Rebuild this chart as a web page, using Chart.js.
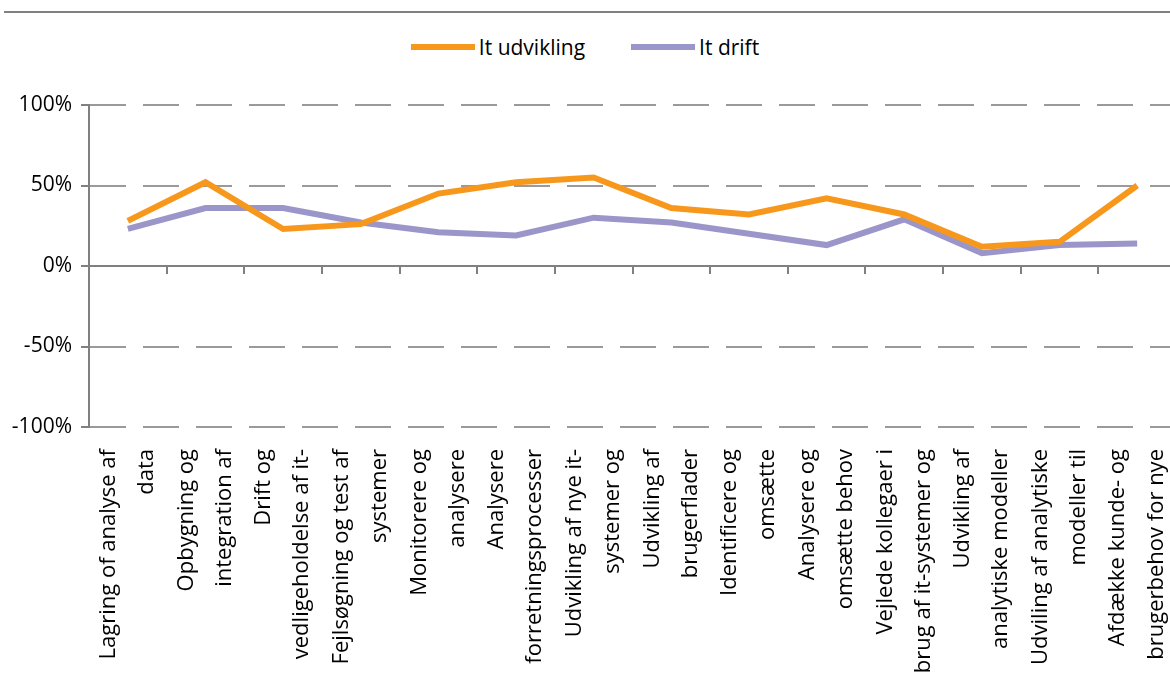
<!DOCTYPE html>
<html>
<head>
<meta charset="utf-8">
<script src="https://cdn.jsdelivr.net/npm/chart.js@4.4.1/dist/chart.umd.min.js"></script>
<style>
    html, body { margin: 0; padding: 0; background: #fff; overflow: hidden; }
    #wrap { position: relative; width: 1170px; height: 686px; overflow: hidden; }
    #topRule { position: absolute; left: 4px; right: 0; top: 11px; height: 2px; background: #808080; }
    #legend {
        position: absolute; top: 33px; left: 0; width: 1170px;
        display: flex; justify-content: center; align-items: center;
        font-family: "Open Sans", sans-serif; font-size: 21px; color: #000;
    }
    .item { display: flex; align-items: center; margin: 0 23px; }
    .swatch { display: inline-block; width: 64px; height: 6px; margin-right: 4px; }
    canvas { position: absolute; left: 0; top: 0; }
</style>
</head>
<body>
<div id="wrap">
    <div id="topRule"></div>
    <div id="legend"></div>
    <canvas id="lineChart" width="1176" height="686"></canvas>
</div>
<script>
// --- Datos ---
const categories = [
    ["Lagring of analyse af", "data"],
    ["Opbygning og", "integration af"],
    ["Drift og", "vedligeholdelse af it-"],
    ["Fejlsøgning og test af", "systemer"],
    ["Monitorere og", "analysere"],
    ["Analysere", "forretningsprocesser"],
    ["Udvikling af nye it-", "systemer og"],
    ["Udvikling af", "brugerflader"],
    ["Identificere og", "omsætte"],
    ["Analysere og", "omsætte behov"],
    ["Vejlede kollegaer i", "brug af it-systemer og"],
    ["Udvikling af", "analytiske modeller"],
    ["Udviling af analytiske", "modeller til"],
    ["Afdække kunde- og", "brugerbehov for nye"]
];
const seriesNames = ["It udvikling", "It drift"];
const itUdvikling = [28, 52, 23, 26, 45, 52, 55, 36, 32, 42, 32, 12, 15, 50];
const itDrift = [23, 36, 36, 27, 21, 19, 30, 27, 20, 13, 29, 8, 13, 14];
const yTicks = [-100, -50, 0, 50, 100];

const COLORS = { orange: "#F7981D", purple: "#9B96CA", axis: "#808080", grid: "#9a9a9a" };

// --- Leyenda HTML ---
const legendEl = document.getElementById("legend");
[[seriesNames[0], COLORS.orange], [seriesNames[1], COLORS.purple]].forEach(([name, color]) => {
    const item = document.createElement("div");
    item.className = "item";
    item.innerHTML = `<span class="swatch" style="background:${color}"></span><span>${name}</span>`;
    legendEl.appendChild(item);
});

// --- Marcas del eje en 0% ---
const zeroTicks = {
    id: "zeroTicks",
    afterDatasetsDraw(chart) {
        const { ctx, scales: { x, y } } = chart;
        const y0 = y.getPixelForValue(0);
        ctx.save();
        ctx.strokeStyle = COLORS.axis;
        ctx.lineWidth = 2;
        for (let i = 0; i < categories.length - 1; i++) {
            const px = Math.round((x.getPixelForValue(i) + x.getPixelForValue(i + 1)) / 2);
            ctx.beginPath();
            ctx.moveTo(px, y0);
            ctx.lineTo(px, y0 + 8);
            ctx.stroke();
        }
        ctx.restore();
    }
};

new Chart(document.getElementById("lineChart").getContext("2d"), {
    type: "line",
    data: {
        labels: categories,
        datasets: [{
            label: seriesNames[0],
            data: itUdvikling,
            borderColor: COLORS.orange,
            backgroundColor: COLORS.orange,
            borderWidth: 6,
            pointRadius: 0,
            tension: 0
        }, {
            label: seriesNames[1],
            data: itDrift,
            borderColor: COLORS.purple,
            backgroundColor: COLORS.purple,
            borderWidth: 6,
            pointRadius: 0,
            tension: 0
        }]
    },
    options: {
        responsive: false,
        animation: false,
        layout: { padding: { top: 105, left: 0, right: 0, bottom: 0 } },
        plugins: {
            legend: { display: false },
            tooltip: { enabled: false }
        },
        scales: {
            x: {
                offset: true,
                grid: { display: false, drawTicks: false },
                border: { display: false },
                ticks: {
                    autoSkip: false,
                    maxRotation: 90,
                    minRotation: 90,
                    padding: 22,
                    labelOffset: -19,
                    color: "#000",
                    font: { family: "Open Sans", size: 22, lineHeight: 1.73 }
                },
                afterFit: (scale) => {
                    scale.height = 259;
                    scale.paddingLeft = 0;
                    scale.paddingRight = 0;
                }
            },
            y: {
                min: -100,
                max: 100,
                afterBuildTicks: (scale) => { scale.ticks = yTicks.map(v => ({ value: v })); },
                grid: {
                    color: (ctx) => ctx.tick && ctx.tick.value === 0 ? COLORS.axis : COLORS.grid,
                    lineWidth: 2,
                    tickLength: 8,
                    tickColor: COLORS.axis,
                    tickWidth: 2
                },
                border: {
                    color: COLORS.axis,
                    width: 2,
                    dash: (ctx) => ctx.type === "tick" && ctx.tick.value !== 0 ? [36, 17] : []
                },
                ticks: {
                    padding: 9,
                    color: "#000",
                    font: { family: "Open Sans", size: 21 },
                    callback: (v) => v + "%"
                },
                afterFit: (scale) => { scale.width = 89; }
            }
        }
    },
    plugins: [zeroTicks]
});
</script>
</body>
</html>
